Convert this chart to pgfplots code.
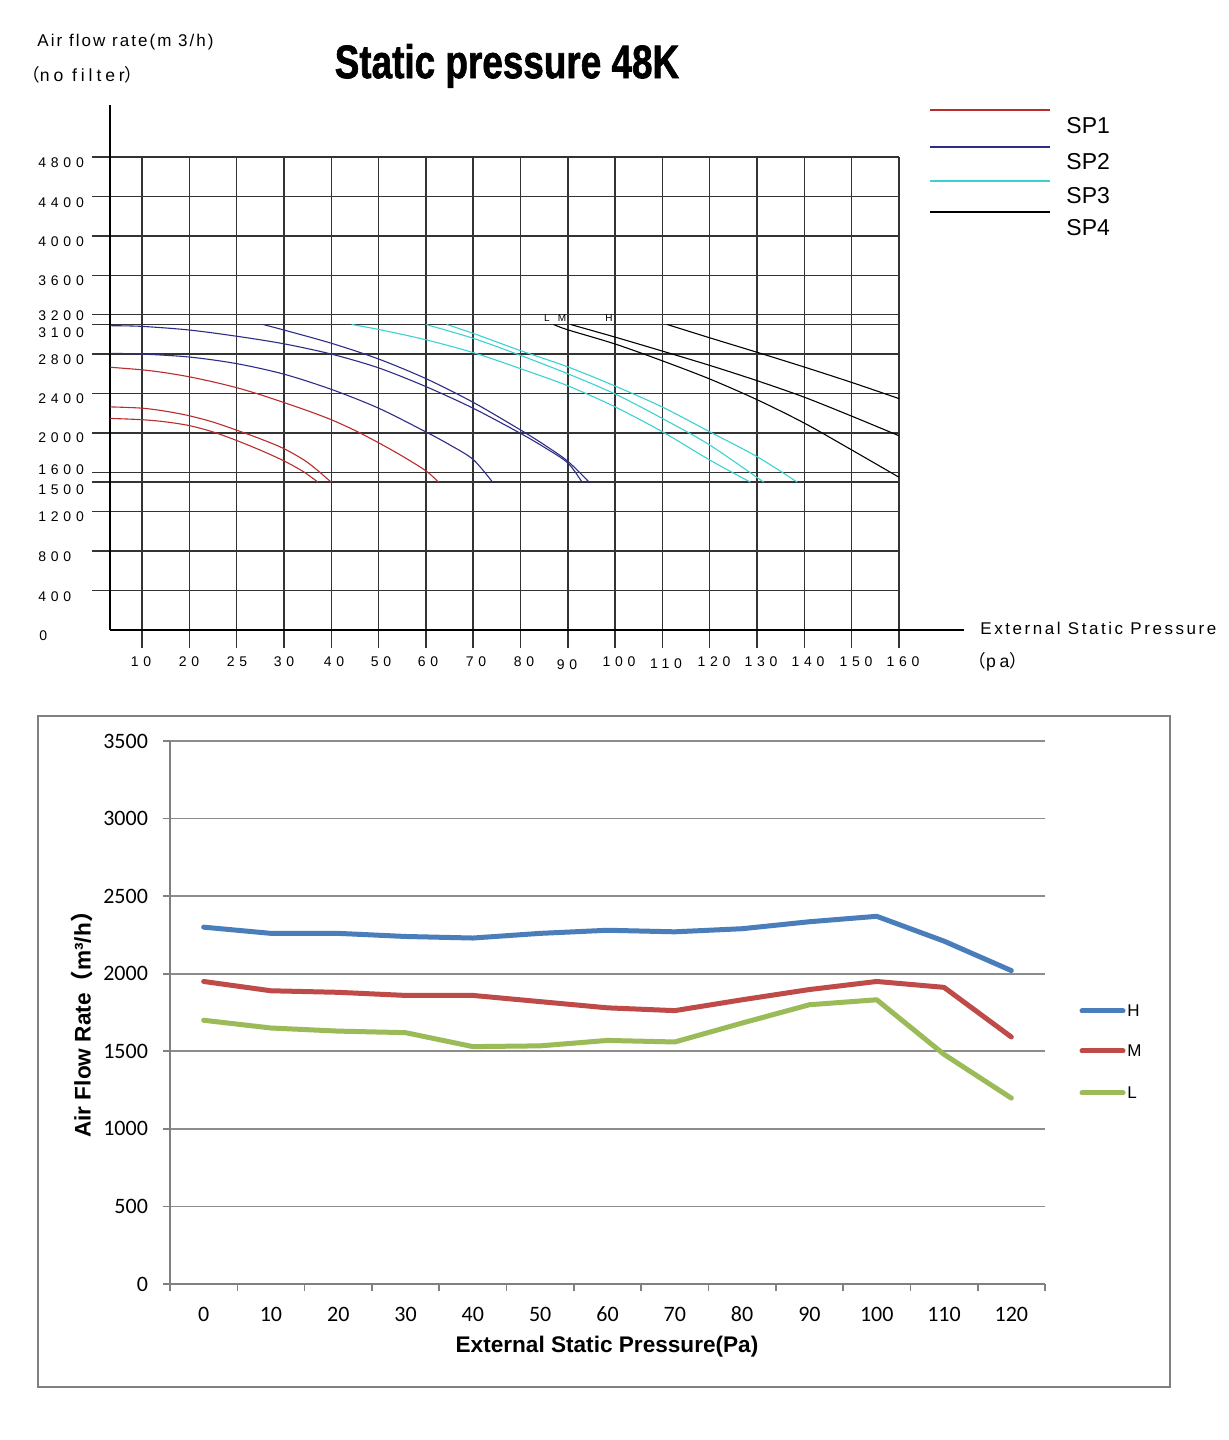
\documentclass[border=0pt]{standalone}
\usepackage{fontspec}
\usepackage{graphicx}
\usepackage{pgfplots}
\pgfplotsset{compat=1.18}
\setmainfont{Liberation Sans}
\newfontfamily\nar[LetterSpace=34]{Liberation Sans}
\newfontfamily\narA[LetterSpace=12]{Liberation Sans}
\newfontfamily\narB[LetterSpace=15]{Liberation Sans}
\newfontfamily\narC[LetterSpace=22]{Liberation Sans}
\newfontfamily\titlef[FakeBold=1.5]{Liberation Sans Bold}
\newfontfamily\cjk{Noto Sans CJK SC}
\newfontfamily\calib{Carlito}
\definecolor{spA}{RGB}{185,45,45}
\definecolor{spB}{RGB}{45,45,135}
\definecolor{spC}{RGB}{60,210,210}
\definecolor{spD}{RGB}{0,0,0}
\definecolor{cH}{RGB}{74,126,187}
\definecolor{cM}{RGB}{190,75,72}
\definecolor{cL}{RGB}{155,187,89}
\newcommand\tl{\nar\fontsize{7}{8}\selectfont}
\begin{document}
\begin{tikzpicture}
\path[use as bounding box, fill=white] (0,0) rectangle (614.5pt,720pt);

% ---------------- top chart ----------------
\begin{axis}[
  at={(46pt,396pt)}, anchor=south west, scale only axis,
  width=403.5pt, height=245.5pt,
  xmin=-0.0569, xmax=17, ymin=-182.7, ymax=4800,
  axis line style={draw=none}, tick style={draw=none},
  xtick={1,...,17},
  ytick={400,800,1200,1500,1600,2000,2400,2800,3100,3200,3600,4000,4400,4800},
  xticklabels={}, yticklabels={},
  xmajorgrids, ymajorgrids, grid style={black!80, line width=0.7pt},
  clip=false,
  every axis plot/.append style={no marks, smooth, line width=0.55pt},
]
\draw[black, line width=0.7pt] (axis cs:0.3236,0) -- (axis cs:0.3236,5328);
\draw[black, line width=0.7pt] (axis cs:0.3236,0) -- (axis cs:18.375,0);
% SP1
\addplot[spA] coordinates {(0.33,2666)(1,2640)(1.5,2610)(2,2569)(2.5,2518)(3,2459)(3.5,2388)(4,2308)(4.5,2225)(5,2134)(5.5,2025)(6,1900)(6.5,1765)(7,1615)(7.27,1500)};
\addplot[spA] coordinates {(0.33,2264)(1,2251)(1.5,2220)(2,2174)(2.5,2110)(3,2028)(3.5,1940)(4,1840)(4.5,1700)(5.0,1500)};
\addplot[spA] coordinates {(0.33,2147)(1,2134)(1.5,2112)(2,2074)(2.5,2010)(3,1923)(3.5,1825)(4,1716)(4.4,1610)(4.72,1500)};
% SP2
\addplot[spB] coordinates {(0.33,2807)(1,2800)(2,2770)(3,2703)(4,2596)(5,2442)(6,2251)(7,2010)(7.5,1880)(8,1730)(8.41,1500)};
\addplot[spB] coordinates {(0.33,3088)(1,3081)(2,3044)(3,2981)(4,2904)(5,2800)(6,2660)(7,2470)(8,2250)(9,1995)(9.5,1855)(10,1695)(10.3,1500)};
\addplot[spB] coordinates {(3.56,3100)(4,3044)(5,2910)(6,2750)(7,2551)(8,2310)(9,2030)(9.5,1880)(10,1712)(10.45,1500)};
% SP3
\addplot[spC] coordinates {(5.43,3100)(6,3050)(7,2945)(8,2815)(9,2652)(10,2478)(11,2264)(12,2011)(13,1725)(13.86,1500)};
\addplot[spC] coordinates {(7,3100)(8,2960)(9,2787)(10,2600)(11,2395)(12,2146)(13,1877)(14.14,1500)};
\addplot[spC] coordinates {(7.44,3100)(8,3010)(9,2835)(10,2670)(11,2475)(12,2262)(13,2011)(14,1759)(14.85,1500)};
% SP4
\addplot[spD] coordinates {(9.70,3100)(10,3046)(11,2902)(12,2731)(13,2547)(14,2337)(15,2099)(16,1827)(17,1550)};
\addplot[spD] coordinates {(10.06,3100)(11,2972)(12,2830)(13,2685)(14,2530)(15,2362)(16,2170)(17,1971)};
\addplot[spD] coordinates {(12.1,3100)(13,2965)(14,2818)(15,2668)(16,2512)(17,2348)};
\node[font=\fontsize{5}{5}\selectfont, inner sep=0pt] at (axis cs:9.56,3165) {L};
\node[font=\fontsize{5}{5}\selectfont, inner sep=0pt] at (axis cs:9.88,3165) {M};
\node[font=\fontsize{5}{5}\selectfont, inner sep=0pt] at (axis cs:10.87,3165) {H};
\end{axis}

% ---------------- bottom chart ----------------
\begin{axis}[
  at={(85pt,78pt)}, anchor=south west, scale only axis,
  width=437.5pt, height=271.5pt,
  xmin=-5, xmax=125, ymin=0, ymax=3500,
  axis x line*=bottom, axis y line*=left,
  axis line style={draw=black!50, line width=0.8pt},
  ytick={0,500,...,3500},
  xtick={0,10,20,30,40,50,60,70,80,90,100,110,120},
  xticklabels={0,10,20,30,40,50,60,70,80,90,100,110,120},
  minor xtick={-5,5,...,125},
  tick align=outside,
  major tick length=3.5pt, minor tick length=3.5pt,
  major x tick style={draw=none},
  minor x tick style={draw=black!50, line width=0.8pt},
  ytick style={draw=black!50, line width=0.8pt},
  ymajorgrids, grid style={black!45, line width=0.8pt},
  /pgf/number format/assume math mode=true,
  /pgf/number format/1000 sep={},
  ticklabel style={font=\calib\fontsize{11}{13}\selectfont},
  xticklabel style={anchor=base, yshift=-15.5pt},
  yticklabel style={xshift=-4pt},
  every axis plot/.append style={no marks, line width=2.5pt, line join=round, line cap=round},
]
\addplot[cH] coordinates {(0,2300)(10,2260)(20,2260)(30,2240)(40,2230)(50,2260)(60,2280)(70,2270)(80,2290)(90,2335)(100,2370)(110,2210)(120,2020)};
\addplot[cM] coordinates {(0,1950)(10,1890)(20,1880)(30,1860)(40,1860)(50,1820)(60,1780)(70,1762)(80,1832)(90,1898)(100,1950)(110,1912)(120,1592)};
\addplot[cL] coordinates {(0,1700)(10,1650)(20,1630)(30,1620)(40,1530)(50,1535)(60,1570)(70,1560)(80,1682)(90,1800)(100,1832)(110,1480)(120,1198)};
\end{axis}

% ---------------- texts and decorations (pixel coordinates) ----------------
\begin{scope}[x=0.5pt,y=-0.5pt,shift={(0pt,720pt)}]
% top y labels
\foreach \v/\py in {4800/163,4400/203,4000/242,3600/281,3200/316,3100/333,2800/360,2400/399,2000/438,1600/470,1500/490,1200/517,800/557,400/597}
  \node[anchor=west, inner sep=0pt, font=\tl] at (38,\py) {\v};
\node[anchor=west, inner sep=0pt, font=\tl] at (39,636) {0};
% top x labels
\foreach \v/\px/\py in {10/141/662,20/189/662,25/237/662,30/284/662,40/334/662,50/381/662,60/428/662,70/476/662,80/524/662,90/567/665,100/619/662,110/666/664,120/714/662,130/761/662,140/808/662,150/856/662,160/903/662}
  \node[inner sep=0pt, font=\tl] at (\px,\py) {\v};
\node[anchor=west, inner sep=0pt, font=\narA\fontsize{8.5}{10}\selectfont] at (37,42) {Air flow rate(m 3/h)};
\node[anchor=west, inner sep=0pt, font=\narC\fontsize{8.8}{10}\selectfont] at (22,75) {{\cjk （}no filter{\cjk ）}};
\node[inner sep=0pt] at (507,66) {\scalebox{0.785}[1]{\titlef\fontsize{23.5}{24}\selectfont Static pressure 48K}};
\node[anchor=west, inner sep=0pt, font=\narB\fontsize{8.5}{10}\selectfont] at (980,628) {External Static Pressure};
\node[anchor=west, inner sep=0pt, font=\narC\fontsize{8.8}{10}\selectfont] at (968,662) {{\cjk （}pa{\cjk ）}};
% top legend
\draw[spA, line width=0.6pt] (930,110) -- (1050,110);
\draw[spB, line width=1.1pt] (930,147) -- (1050,147);
\draw[spC, line width=0.7pt] (930,181) -- (1050,181);
\draw[spD, line width=0.7pt] (930,212) -- (1050,212);
\foreach \t/\py in {SP1/126,SP2/162,SP3/196,SP4/228}
  \node[anchor=west, inner sep=0pt, font=\fontsize{11.5}{13}\selectfont] at (1066,\py) {\t};
% bottom frame
\draw[black!50, line width=0.9pt] (38,716) rectangle (1170,1387);
% bottom legend
\draw[cH, line width=2.5pt, line cap=round] (1082,1011) -- (1123,1011);
\draw[cM, line width=2.5pt, line cap=round] (1082,1051) -- (1123,1051);
\draw[cL, line width=2.5pt, line cap=round] (1082,1093) -- (1123,1093);
\node[anchor=west, inner sep=0pt, font=\fontsize{8.5}{10}\selectfont] at (1127,1011) {H};
\node[anchor=west, inner sep=0pt, font=\fontsize{8.5}{10}\selectfont] at (1127,1051) {M};
\node[anchor=west, inner sep=0pt, font=\fontsize{8.5}{10}\selectfont] at (1127,1093) {L};
% bottom axis labels
\node[inner sep=0pt, font=\bfseries\fontsize{11.3}{13}\selectfont] at (607,1347) {External Static Pressure(Pa)};
\node[inner sep=0pt, rotate=90, font=\bfseries\fontsize{11.3}{13}\selectfont] at (82,1019) {Air Flow Rate{\cjk\bfseries （}m³/h{\cjk\bfseries ）}};
\end{scope}
\end{tikzpicture}
\end{document}
